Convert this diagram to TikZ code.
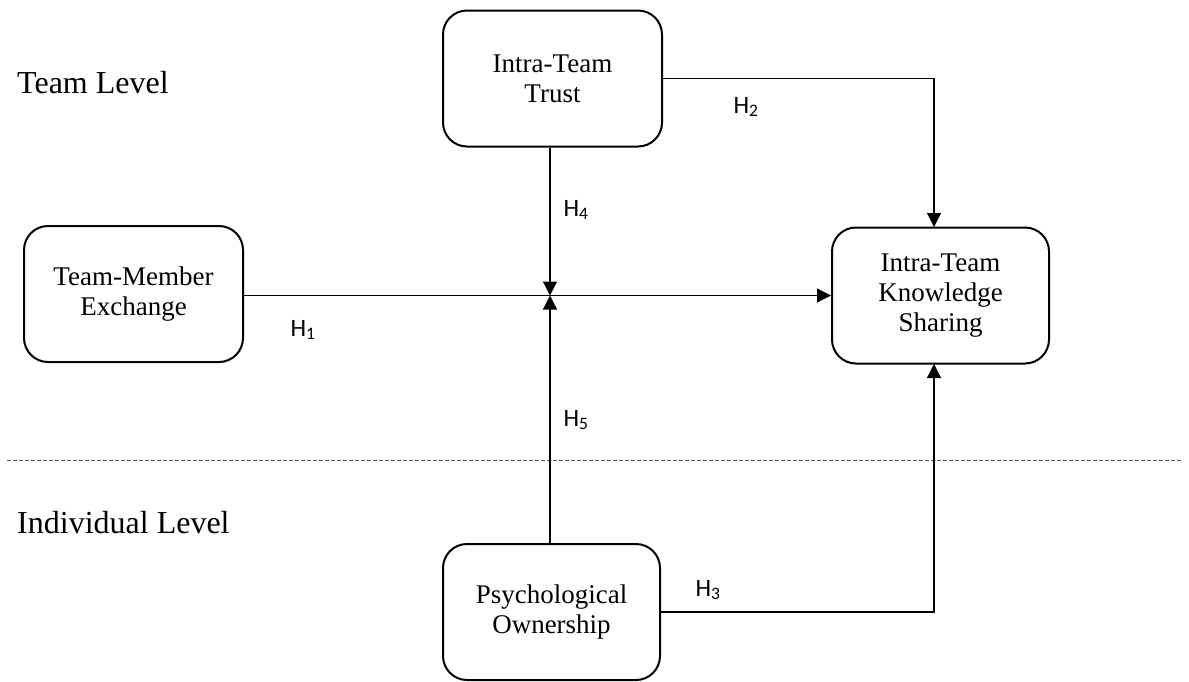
\documentclass[tikz,border=0pt]{standalone}
\usepackage{fontspec}
\setmainfont{Liberation Serif}
\newfontfamily\hfont{Carlito}
\usetikzlibrary{arrows.meta}
\begin{document}
\begin{tikzpicture}[x=1pt,y=-1pt,
  box/.style={draw, line width=2pt, rounded corners=24pt, minimum width=219pt, minimum height=136pt, align=center, inner sep=0pt, font=\fontsize{27}{30}\selectfont},
  conn/.style={line width=1.2pt, -{Triangle[length=14pt,width=14pt]}},
  hlab/.style={font=\hfont\fontsize{25}{30}\selectfont, inner sep=0pt},
  level/.style={font=\fontsize{32}{36}\selectfont, anchor=base west, inner sep=0pt}]
\useasboundingbox (0,0) rectangle (1189,681);
\node[box] (trust) at (552.5,78.5) {Intra-Team\\Trust};
\node[box] (tme) at (133.5,294) {Team-Member\\Exchange};
\node[box, minimum width=217pt] (ks) at (940.5,295.5) {Intra-Team\\Knowledge\\Sharing};
\node[box, minimum width=217pt] (psych) at (551.5,612) {Psychological\\Ownership};
\node[level] (tl) at (17,93) {Team Level};
\node[level] (il) at (17,533) {Individual Level};
\coordinate (j) at (550,295.5);
\coordinate (ksn) at (934,227);
\coordinate (kss) at (934,364);
\draw[line width=1pt, gray!70!black, dash pattern=on 4pt off 2pt] (7,460) coordinate (dl) -- (1183,460) coordinate (dr);
\draw[conn] (tme.east |- j) -- (ks.west);
\draw[conn] (trust.east) -| (ksn);
\draw[conn] (trust.south -| j) -- (j);
\draw[conn] (psych.north -| j) -- (j);
\draw[conn] (psych.east) -| (kss);
\node[hlab] (h1) at (303,330) {H\textsubscript{1}};
\node[hlab] (h2) at (746,107) {H\textsubscript{2}};
\node[hlab] (h3) at (708,590) {H\textsubscript{3}};
\node[hlab] (h4) at (576,210) {H\textsubscript{4}};
\node[hlab] (h5) at (576,420) {H\textsubscript{5}};
\end{tikzpicture}
\end{document}
